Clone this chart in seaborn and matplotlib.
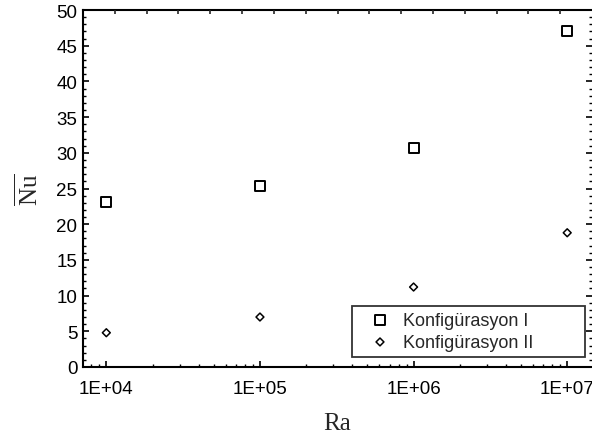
import matplotlib
import numpy as np
import pandas as pd
import seaborn as sns

matplotlib.use("Agg")
import matplotlib.pyplot as plt  # noqa: E402
from matplotlib.ticker import FixedLocator, MultipleLocator, NullFormatter  # noqa: E402

sns.set_theme(style="ticks")
plt.rcParams["font.family"] = ["Liberation Sans", "DejaVu Sans"]
plt.rcParams["mathtext.fontset"] = "custom"
plt.rcParams["mathtext.rm"] = "Liberation Serif"

# Ra değerleri ve ortalama Nusselt sayıları
ra = [1e4, 1e5, 1e6, 1e7]
nu_konf1 = [23.1, 25.4, 30.7, 47.1]
nu_konf2 = [4.8, 7.0, 11.2, 18.8]
x_ticks = [1e4, 1e5, 1e6, 1e7]
x_tick_labels = ["1E+04", "1E+05", "1E+06", "1E+07"]

df = pd.DataFrame({"Ra": ra + ra, "Nu": nu_konf1 + nu_konf2,
                   "seri": ["Konfigürasyon I"] * 4 + ["Konfigürasyon II"] * 4})

fig = plt.figure(figsize=(5.92, 4.39), dpi=100)
ax = fig.add_axes([83 / 592, 1 - 368 / 439, 509 / 592, 357 / 439])

sns.scatterplot(data=df[df["seri"] == "Konfigürasyon I"], x="Ra", y="Nu", marker="s",
                s=52, facecolor="none", edgecolor="black", linewidth=1.4,
                label="Konfigürasyon I", ax=ax)
sns.scatterplot(data=df[df["seri"] == "Konfigürasyon II"], x="Ra", y="Nu", marker="D",
                s=16, facecolor="none", edgecolor="black", linewidth=1.1,
                label="Konfigürasyon II", ax=ax)

ax.set_xscale("log")
ax.set_xlim(7.05e3, 1.45e7)
ax.set_ylim(0, 50)
ax.xaxis.set_major_locator(FixedLocator(x_ticks))
ax.set_xticklabels(x_tick_labels)
ax.xaxis.set_minor_locator(matplotlib.ticker.LogLocator(base=10, subs=np.arange(2, 10)))
ax.xaxis.set_minor_formatter(NullFormatter())
ax.yaxis.set_major_locator(MultipleLocator(5))
ax.yaxis.set_minor_locator(MultipleLocator(1))

ax.tick_params(which="both", direction="in", labelsize=13.5, colors="black",
               left=True, right=True, bottom=True, top=False)
ax.tick_params(which="major", length=4, width=1.2)
ax.tick_params(which="minor", length=2.5, width=1)
ax.tick_params(axis="x", which="major", pad=9)
ax.tick_params(axis="y", which="major", pad=4)
for side in ["left", "bottom", "top", "right"]:
    ax.spines[side].set_color("black")
ax.spines["left"].set_linewidth(1.5)
ax.spines["bottom"].set_linewidth(1.5)
ax.spines["top"].set_linewidth(1.5)
ax.spines["right"].set_linewidth(0.6)

# üst eksen: düzgün aralıklı tik işaretleri
top = ax.twiny()
top.set_xlim(0, 16)
top.set_xticks(range(1, 16))
top.tick_params(axis="x", direction="in", length=3, width=1.2, labeltop=False)
for side in top.spines:
    top.spines[side].set_visible(False)

ax.set_xlabel("Ra", family="Liberation Serif", fontsize=18, labelpad=11)
ax.set_ylabel(r"$\overline{\mathrm{Nu}}$", fontsize=18, labelpad=10)

leg = ax.legend(loc="lower left", bbox_to_anchor=(0.5285, 0.028, 0.4578, 0.1485),
                mode="expand", borderaxespad=0, fontsize=13, frameon=True,
                fancybox=False, handlelength=2.4, handletextpad=0.1,
                borderpad=0.35, labelspacing=0.25)
leg.get_frame().set_edgecolor("black")
leg.get_frame().set_linewidth(1.3)

fig.savefig("out.png", dpi=100)
